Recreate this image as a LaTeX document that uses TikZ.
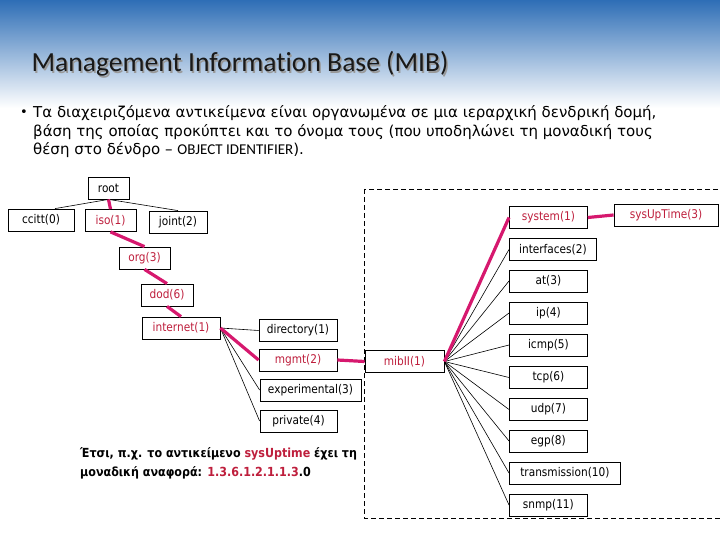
\documentclass[tikz,border=0pt]{standalone}
\usepackage{fontspec}
\setmainfont{DejaVu Sans}
\newfontfamily\titlefont[Ligatures=NoCommon]{Carlito}
\newfontfamily\boxfont[FakeStretch=0.88]{DejaVu Sans}
\newfontfamily\notefont[FakeStretch=0.89]{DejaVu Sans}
\definecolor{oidline}{RGB}{214,24,110}
\definecolor{oidtext}{RGB}{190,30,60}
\definecolor{slideblue}{RGB}{46,110,182}

\begin{document}
\begin{tikzpicture}[x=1pt, y=-1pt,
  obj/.style={draw, line width=0.8pt, fill=white, inner sep=1pt, minimum height=22pt, minimum width=78pt, font=\boxfont\fontsize{12}{13}\selectfont},
  hot/.style={text=oidtext},
  branch/.style={line width=0.6pt},
  trail/.style={line width=3.2pt, draw=oidline}
]
\useasboundingbox (0,0) rectangle (720,540);
\shade[top color=slideblue, bottom color=white] (0,0) rectangle (720,108);

% title and bullet text
\node[anchor=base west, text=black!40, font=\titlefont\fontsize{27.6}{30}\selectfont] at (29.5,73.5) {Management Information Base (MIB)};
\node[anchor=base west, text=black!90, font=\titlefont\fontsize{27.6}{30}\selectfont] (title) at (28,72) {Management Information Base (MIB)};
\node[anchor=base west, inner sep=0pt, font=\fontsize{13}{18}\selectfont] (bullet) at (20,117) {•};
\node[anchor=north west, inner sep=0pt, align=left, font=\fontsize{15}{18.5}\selectfont] (intro) at (33,105.5)
  {Τα διαχειριζόμενα αντικείμενα είναι οργανωμένα σε μια ιεραρχική δενδρική δομή,\\
   βάση της οποίας προκύπτει και το όνομα τους (που υποδηλώνει τη μοναδική τους\\
   θέση στο δένδρο – {\titlefont OBJECT IDENTIFIER}).};

% mib-2 frame
\draw[line width=0.8pt, dash pattern=on 5pt off 3pt] (364,189) rectangle (724,518);

% left part of the tree
\node[obj, minimum width=41pt] (root) at (108.5,188) {root};
\node[obj, minimum width=66pt] (ccitt) at (41,220) {ccitt(0)};
\node[obj, hot, minimum width=51pt] (iso) at (110.5,220.5) {iso(1)};
\node[obj, minimum width=58pt] (joint) at (178,222) {joint(2)};
\node[obj, hot, minimum width=51pt] (org) at (144.5,258) {org(3)};
\node[obj, hot, minimum width=52pt] (dod) at (167,295) {dod(6)};
\node[obj, hot] (internet) at (181,328) {internet(1)};
\node[obj] (directory) at (298,330.5) {directory(1)};
\node[obj, hot] (mgmt) at (298,360) {mgmt(2)};
\node[obj, minimum width=101pt] (experimental) at (310.5,390) {experimental(3)};
\node[obj, minimum width=77pt] (private) at (298.5,421) {private(4)};
\node[obj, hot, minimum width=79pt] (mibII) at (404.5,361.5) {mibII(1)};

% groups under mib-2
\node[obj, hot, anchor=west] (system) at (509,217.5) {system(1)};
\node[obj, hot, minimum width=104pt] (sysUpTime) at (666,215) {sysUpTime(3)};
\node[obj, anchor=west, minimum width=87pt] (interfaces) at (509,249.5) {interfaces(2)};
\node[obj, anchor=west] (at) at (509,281) {at(3)};
\node[obj, anchor=west] (ip) at (509,313) {ip(4)};
\node[obj, anchor=west] (icmp) at (509,345) {icmp(5)};
\node[obj, anchor=west] (tcp) at (509,377.5) {tcp(6)};
\node[obj, anchor=west] (udp) at (509,409.5) {udp(7)};
\node[obj, anchor=west] (egp) at (509,441) {egp(8)};
\node[obj, anchor=west, minimum width=111pt] (transmission) at (509,473) {transmission(10)};
\node[obj, anchor=west] (snmp) at (509,505) {snmp(11)};

% connectors
\draw[branch] (root.south) -- ([xshift=14pt]ccitt.north);
\draw[branch] (root.south) -- (joint.north);
\foreach \n in {directory, experimental, private}
  \draw[branch] (internet.east) -- (\n.west);
\foreach \n in {interfaces, at, ip, icmp, tcp, udp, egp, transmission, snmp}
  \draw[branch] (mibII.east) -- (\n.west);
\draw[trail] (root.south) -- (iso.north);
\draw[trail] (iso.south) -- (org.north);
\draw[trail] (org.south) -- (dod.north);
\draw[trail] (dod.south) -- (internet.north);
\draw[trail] (internet.east) -- (mgmt.west);
\draw[trail] (mgmt.east) -- (mibII.west);
\draw[trail] (mibII.east) -- (system.west);
\draw[trail] (system.east) -- (sysUpTime.west);

% example note
\node[anchor=north west, inner sep=0pt, align=left, font=\notefont\bfseries\fontsize{12.5}{19.5}\selectfont] (note) at (80,447)
  {Έτσι, π.χ. το αντικείμενο \textcolor{oidtext}{sysUptime} έχει τη\\
   μοναδική αναφορά: \textcolor{oidtext}{1.3.6.1.2.1.1.3}.0};
\end{tikzpicture}
\end{document}
